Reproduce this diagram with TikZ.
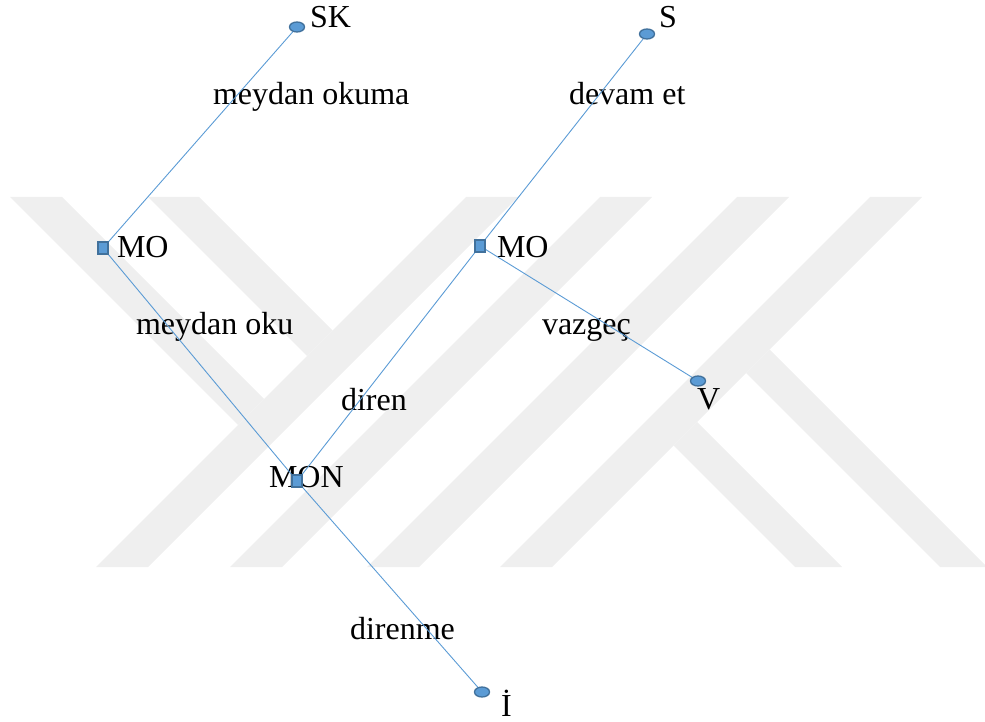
\documentclass[tikz,border=0pt]{standalone}
\usepackage{fontspec}
\setmainfont{Liberation Serif}
\usetikzlibrary{shapes.geometric}
\definecolor{lineblue}{HTML}{5B9BD5}
\definecolor{edgeblue}{HTML}{41719C}
\definecolor{wm}{RGB}{239,239,239}
\tikzset{
  conn/.style={draw=lineblue, line width=0.9pt},
  endpt/.style={ellipse, draw=edgeblue, fill=lineblue, line width=1.3pt, minimum width=15pt, minimum height=10pt, inner sep=0pt},
  midpt/.style={rectangle, draw=edgeblue, fill=lineblue, line width=1.3pt, minimum width=10pt, minimum height=12pt, inner sep=0pt},
  lbl/.style={anchor=base west, inner sep=0pt, outer sep=0pt, font=\fontsize{32}{38}\selectfont},
  wmband/.style={fill=wm, draw=none}
}
\begin{document}
\begin{tikzpicture}[x=1pt,y=-1pt]
\useasboundingbox (0,0) rectangle (985,722);
% watermark
\begin{scope}
\clip (0,0) rectangle (985,722);
\fill[wmband] (466,197) -- (518,197) -- (148,567) -- (96,567) -- cycle;
\fill[wmband] (600,197) -- (652,197) -- (282,567) -- (230,567) -- cycle;
\fill[wmband] (737,197) -- (789,197) -- (419,567) -- (367,567) -- cycle;
\fill[wmband] (870,197) -- (922,197) -- (552,567) -- (500,567) -- cycle;
\fill[wmband] (10,197) -- (62,197) -- (264,399) -- (238,425) -- cycle;
\fill[wmband] (148,197) -- (199,197) -- (332.5,330.5) -- (307,356) -- cycle;
\fill[wmband] (673.5,445.5) -- (697,422) -- (842,567) -- (795,567) -- cycle;
\fill[wmband] (746,373) -- (769.5,349.5) -- (987,567) -- (940,567) -- cycle;
\end{scope}
% positions
\coordinate (sk) at (297,27);
\coordinate (s) at (647,34);
\coordinate (mo1) at (103,248);
\coordinate (mo2) at (480,246);
\coordinate (mon) at (297,481);
\coordinate (v) at (698,381);
\coordinate (i) at (482,692);
% texts
\node[lbl] (tsk) at (310,28) {SK};
\node[lbl] (ts) at (659,28) {S};
\node[lbl] (tmo1) at (117,257) {MO};
\node[lbl] (tmo2) at (497,257) {MO};
\node[lbl] (tmon) at (269,487) {MON};
\node[lbl] (tv) at (697,409) {V};
\node[lbl] (ti) at (501,716) {İ};
\node[lbl] (e1) at (213,105) {meydan okuma};
\node[lbl] (e2) at (569,105) {devam et};
\node[lbl] (e3) at (136,334) {meydan oku};
\node[lbl] (e4) at (542,334) {vazgeç};
\node[lbl] (e5) at (341,410) {diren};
\node[lbl] (e6) at (350,639) {direnme};
% connectors
\draw[conn] (sk) -- (mo1);
\draw[conn] (mo1) -- (mon);
\draw[conn] (mon) -- (mo2);
\draw[conn] (mo2) -- (s);
\draw[conn] (mo2) -- (v);
\draw[conn] (mon) -- (i);
% markers
\node[endpt] (msk) at (sk) {};
\node[endpt] (ms) at (s) {};
\node[midpt] (mmo1) at (mo1) {};
\node[midpt] (mmo2) at (mo2) {};
\node[midpt] (mmon) at (mon) {};
\node[endpt] (mv) at (v) {};
\node[endpt] (mi) at (i) {};
\end{tikzpicture}
\end{document}
